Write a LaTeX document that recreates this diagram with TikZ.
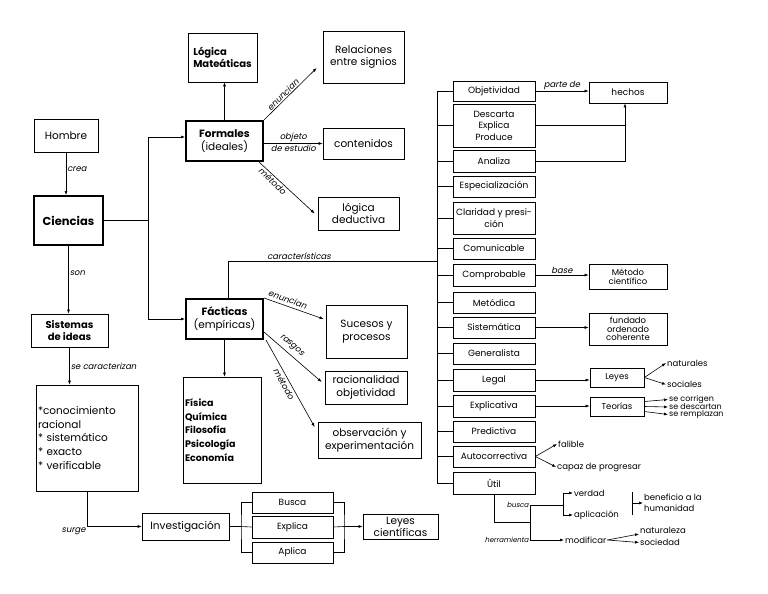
\documentclass[tikz,border=0pt]{standalone}
\usepackage{fontspec}
\setmainfont{Poppins}[AutoFakeSlant=0.2]
\usetikzlibrary{arrows.meta}
\begin{document}
\begin{tikzpicture}[x=1pt,y=-1pt,
  box/.style={draw,line width=0.7pt,inner sep=1pt,align=center,font=\fontsize{10.5}{12.5}\selectfont},
  thk/.style={line width=2pt},
  sz/.style n args={2}{minimum width=#1pt,minimum height=#2pt},
  rbox/.style={box,minimum width=82pt,font=\fontsize{9}{11.5}\selectfont},
  sbox/.style={box,font=\fontsize{9}{10}\selectfont},
  lbl/.style={inner sep=1pt,font=\itshape\fontsize{8.5}{9}\selectfont},
  tlbl/.style={inner sep=1pt,font=\itshape\fontsize{7}{8}\selectfont},
  txt/.style={inner sep=1pt,anchor=west,font=\fontsize{8.5}{9}\selectfont},
  arr/.style={line width=0.6pt,-{Latex[length=4pt,width=3pt]}},
  ln/.style={line width=0.6pt}]
\useasboundingbox (0,0) rectangle (768,594);
% left part
\node[box,sz={64}{33}] (hombre) at (66,135.5) {Hombre};
\node[box,thk,sz={69}{49},font=\bfseries\fontsize{11.5}{13}\selectfont] (ciencias) at (68.5,220.5) {Ciencias};
\node[box,sz={69}{49},align=left,font=\bfseries\fontsize{10}{12}\selectfont] (logica) at (222.5,57.5) {Lógica\\Mateáticas};
\node[box,sz={81}{52}] (relac) at (363.5,57) {Relaciones\\entre signios};
\node[box,thk,sz={77}{40}] (formales) at (224.5,141) {\textbf{Formales}\\(ideales)};
\node[box,sz={81}{31}] (conten) at (363.5,143.5) {contenidos};
\node[box,sz={81}{33}] (deduc) at (358.5,213.5) {lógica\\deductiva};
\node[box,sz={77}{33},font=\bfseries\fontsize{10}{12.5}\selectfont] (sistemas) at (69.5,330.5) {Sistemas\\de ideas};
\node[box,sz={102}{106},align=left,text width=98pt,inner sep=2pt,font=\fontsize{10.5}{13.7}\selectfont] (lista) at (87,438) {*conocimiento\\racional\\{}* sistemático\\{}* exacto\\{}* verificable};
\node[box,sz={87}{27}] (invest) at (185.5,526.5) {Investigación};
\node[sbox,sz={81}{21}] (busca) at (292.5,502.5) {Busca};
\node[sbox,sz={81}{22}] (explica) at (292.5,527) {Explica};
\node[sbox,sz={81}{21}] (aplica) at (292.5,552.5) {Aplica};
\node[box,sz={75}{25},font=\fontsize{10.5}{12}\selectfont] (leyesc) at (400.5,526.5) {Leyes\\científicas};
\node[box,thk,sz={77}{40}] (facticas) at (224.5,319) {\textbf{Fácticas}\\(empíricas)};
\node[box,sz={78}{106},align=left,text width=74pt,inner sep=2pt,font=\bfseries\fontsize{9.5}{13.8}\selectfont] (fisica) at (222,430) {Física\\Química\\Filosofía\\Psicología\\Economía};
\node[box,sz={81}{53}] (sucesos) at (366.5,331.5) {Sucesos y\\procesos};
\node[box,sz={82}{33}] (racional) at (366,387.5) {racionalidad\\objetividad};
\node[box,sz={103}{36}] (observ) at (369.5,440) {observación y\\experimentación};
% right column
\node[rbox,minimum height=20pt] (obj) at (494,91) {Objetividad};
\node[rbox,minimum height=43pt] (desc) at (494,125.5) {Descarta\\Explica\\Produce};
\node[rbox,minimum height=22pt] (anal) at (494,161) {Analiza};
\node[rbox,minimum height=21pt] (espe) at (494,186.5) {Especialización};
\node[rbox,minimum height=32pt] (clar) at (494,218) {Claridad y presi-\\ción};
\node[rbox,minimum height=21pt] (comu) at (494,248.5) {Comunicable};
\node[rbox,minimum height=22pt] (comp) at (494,275) {Comprobable};
\node[rbox,minimum height=21pt] (meto) at (494,302.5) {Metódica};
\node[rbox,minimum height=21pt] (sist) at (494,327.5) {Sistemática};
\node[rbox,minimum height=21pt] (gene) at (494,353.5) {Generalista};
\node[rbox,minimum height=22pt] (legal) at (494,380) {Legal};
\node[rbox,minimum height=22pt] (expl) at (494,406) {Explicativa};
\node[rbox,minimum height=21pt] (pred) at (494,431.5) {Predictiva};
\node[rbox,minimum height=21pt] (auto) at (494,456.5) {Autocorrectiva};
\node[rbox,minimum height=22pt] (util) at (494,483) {Útil};
\node[sbox,sz={78}{21}] (hechos) at (628,92.5) {hechos};
\node[sbox,sz={78}{25},font=\fontsize{8.5}{8.5}\selectfont] (metodo) at (628,276.5) {Método\\científico};
\node[sbox,sz={78}{32},font=\fontsize{8.5}{8.5}\selectfont] (fundado) at (628,329) {fundado\\ordenado\\coherente};
\node[sbox,sz={54}{19},font=\fontsize{8.5}{9}\selectfont] (leyes) at (617,377.5) {Leyes};
\node[sbox,sz={54}{19},font=\fontsize{8.5}{9}\selectfont] (teorias) at (617,406.5) {Teorías};
\node[txt] (natur) at (666,363) {naturales};
\node[txt] (socia) at (666,384.5) {sociales};
\node[txt,font=\fontsize{8}{8}\selectfont,inner ysep=0pt] (corr) at (668,399.5) {se corrigen};
\node[txt,font=\fontsize{8}{8}\selectfont,inner ysep=0pt] (desca) at (668,407) {se descartan};
\node[txt,font=\fontsize{8}{8}\selectfont,inner ysep=0pt] (reem) at (668,414.5) {se remplazan};
\node[txt] (fal) at (557,444) {falible};
\node[txt] (capaz) at (556,467) {capaz de progresar};
\node[txt] (verdad) at (573,493) {verdad};
\node[txt] (aplic) at (573,515) {aplicación};
\node[txt,align=left,font=\fontsize{8.5}{11.5}\selectfont] (benef) at (643,503) {beneficio a la\\humanidad};
\node[txt] (modif) at (564,540) {modificar};
\node[txt] (natz) at (639,530) {naturaleza};
\node[txt] (soci) at (639,542.5) {sociedad};
% connectors left
\draw[arr] (hombre.south) -- node[lbl,right,pos=0.4]{crea} (hombre.south |- ciencias.north);
\coordinate (cj) at (148,220.5);
\draw[ln] (ciencias.east) -- (cj);
\draw[arr] (cj) |- ([yshift=4pt]formales.west);
\draw[arr] (cj) |- (facticas.west);
\draw[arr] (formales.north) -- (formales.north |- logica.south);
\draw[arr] (formales.north east) -- node[lbl,above,sloped,pos=0.42]{enuncian} ([xshift=-6pt,yshift=-11pt]relac.west);
\draw[arr] (formales.east |- conten.west) -- node[lbl,above]{objeto} node[lbl,below]{de estudio} (conten.west);
\draw[arr] ([xshift=-5pt]formales.south east) -- node[lbl,below,sloped,pos=0.3]{método} ([xshift=-3pt]deduc.west);
\draw[arr] (ciencias.south) -- node[lbl,right,pos=0.4]{son} (ciencias.south |- sistemas.north);
\draw[arr] (sistemas.south) -- node[lbl,right]{se caracterizan} (sistemas.south |- lista.north);
\draw[arr] (lista.south) |- node[lbl,pos=0.5,below left]{surge} (invest.west);
\coordinate (ij) at (241,526.5);
\draw[ln] (invest.east) -- (ij);
\draw[ln] (busca.west) -| (ij) |- (aplica.west);
\draw[ln] (ij) -- (explica.west);
\coordinate (oj) at (344,526.5);
\draw[ln] (busca.east) -| (oj) |- (aplica.east);
\draw[ln] (explica.east) -- (oj);
\draw[arr] (oj) -- (leyesc.west);
\draw[arr] (facticas.south) -- (facticas.south |- fisica.north);
\draw[arr] (facticas.north east) -- node[lbl,above=2pt,sloped,pos=0.36]{enuncian} ([xshift=-2pt,yshift=12.5pt]sucesos.west);
\draw[arr] ([yshift=-13pt]facticas.east) -- node[lbl,above=3pt,sloped,pos=0.39]{rasgos} ([xshift=-3pt,yshift=5.5pt]racional.west);
\draw[arr] ([xshift=2pt]facticas.south east) -- node[lbl,below=1pt,sloped,pos=0.47]{método} ([xshift=-3pt,yshift=13pt]observ.west);
% bus
\coordinate (bustop) at (437,91);
\coordinate (busbot) at (437,483);
\coordinate (busc) at (437,261);
\draw[ln] (bustop) -- (busbot);
\draw[ln] ([xshift=3.5pt]facticas.north) |- node[lbl,above,pos=0.67]{características} (busc);
\foreach \n in {obj,desc,anal,espe,clar,comu,comp,meto,sist,gene,legal,expl,pred,auto,util}
  \draw[ln] (\n.west -| bustop) -- (\n.west);
% right connectors
\draw[arr] (obj.east) -- node[lbl,above]{parte de} (obj.east -| hechos.west);
\coordinate (hj) at (625,161);
\draw[ln] (desc.east) -- (desc.east -| hj);
\draw[arr] (anal.east) -| ([xshift=-3pt]hechos.south);
\draw[arr] (comp.east) -- node[lbl,above]{base} (comp.east -| metodo.west);
\draw[arr] (sist.east) -- (sist.east -| fundado.west);
\draw[arr] (legal.east) -- (legal.east -| leyes.west);
\draw[arr] (expl.east) -- (expl.east -| teorias.west);
\draw[arr] (leyes.east) -- (natur.west);
\draw[arr] (leyes.east) -- (socia.west);
\draw[arr] ([yshift=5pt]teorias.east) -- (corr.west);
\draw[arr] (teorias.east) -- (desca.west);
\draw[arr] ([yshift=-5pt]teorias.east) -- (reem.west);
\draw[arr] (auto.east) -- (fal.west);
\draw[arr] (auto.east) -- (capaz.west);
\coordinate (ub) at (530,505);
\coordinate (um) at (530,522);
\coordinate (ul) at (530,540);
\draw[ln] (util.south) |- (um);
\draw[ln] (ub) -- node[tlbl,pos=0,left]{busca} node[tlbl,pos=1,left]{herramienta} (ul);
\coordinate (vj) at (563,505);
\draw[ln] (ub) -- (vj);
\draw[arr] (vj) |- (verdad.west);
\draw[arr] (vj) |- (aplic.west);
\draw[arr] (ul) -- (modif.west);
\coordinate (bt) at (632,492);
\coordinate (bb) at (632,515);
\coordinate (bm) at (632,503);
\draw[ln] (bt) -- (bb);
\draw[arr] (bm) -- (benef.west);
\draw[arr] (modif.east) -- ([yshift=-4pt]natz.west);
\draw[arr] (modif.east) -- (soci.west);
\end{tikzpicture}
\end{document}
